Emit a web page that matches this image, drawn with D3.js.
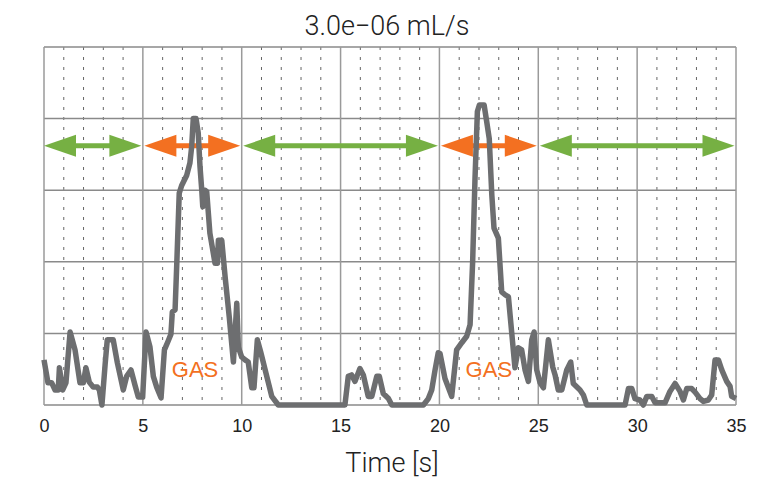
<!DOCTYPE html>
<html>
<head>
<meta charset="utf-8">
<script src="https://cdn.jsdelivr.net/npm/d3@7"></script>
<style>
  body { margin: 0; background: #fff; }
  svg { display: block; }
</style>
</head>
<body>
<script>
// time [s] and flow (in grid divisions)
const times = [0, 0.2, 0.39, 0.56, 0.72, 0.78, 0.94, 1.11, 1.32, 1.57, 1.82, 1.99, 2.12, 2.29, 2.49, 2.7, 2.8, 2.93,
  3.09, 3.2, 3.5, 3.71, 4.01, 4.18, 4.4, 4.6, 4.77, 4.99, 5.16, 5.36, 5.53, 5.7, 5.92, 6.09, 6.26, 6.42, 6.49, 6.63,
  6.71, 6.84, 6.97, 7.22, 7.38, 7.47, 7.55, 7.69, 7.8, 7.89, 7.98, 8.03, 8.14, 8.23, 8.39, 8.65, 8.77, 8.82, 8.99,
  9.16, 9.37, 9.58, 9.75, 9.83, 10.0, 10.17, 10.33, 10.51, 10.62, 10.79, 10.96, 11.35, 11.52, 11.85, 15.22, 15.39,
  15.56, 15.73, 15.98, 16.15, 16.4, 16.58, 16.83, 16.96, 17.16, 17.42, 17.59, 19.19, 19.44, 19.61, 19.78, 19.94,
  20.03, 20.28, 20.62, 20.87, 21.13, 21.38, 21.55, 21.68, 21.8, 21.92, 22.02, 22.26, 22.39, 22.52, 22.65, 22.76,
  22.98, 23.15, 23.32, 23.49, 23.66, 23.82, 23.99, 24.16, 24.33, 24.5, 24.67, 24.79, 24.92, 25.09, 25.26, 25.51,
  25.73, 25.85, 26.01, 26.19, 26.44, 26.64, 26.77, 27.11, 27.28, 27.45, 29.39, 29.56, 29.73, 29.89, 30.14, 30.31,
  30.49, 30.74, 30.91, 31.41, 31.66, 31.92, 32.17, 32.34, 32.51, 32.76, 32.93, 33.18, 33.35, 33.6, 33.77, 33.94,
  34.11, 34.28, 34.53, 34.7, 34.78, 35.0];
const flow = [0.63, 0.31, 0.31, 0.21, 0.21, 0.52, 0.21, 0.31, 1.02, 0.77, 0.31, 0.31, 0.52, 0.32, 0.25, 0.25, 0.21, 0,
  0.56, 0.91, 0.91, 0.59, 0.21, 0.4, 0.49, 0.28, 0.11, 0.11, 1.02, 0.81, 0.4, 0.25, 0.1, 0.77, 0.88, 0.99, 1.3, 1.33,
  1.93, 2.96, 3.07, 3.21, 3.38, 3.61, 4.0, 4.0, 3.8, 3.33, 3.0, 2.77, 3.0, 2.98, 2.4, 1.98, 1.98, 2.3, 2.3,
  1.79, 1.23, 0.6, 1.42, 0.81, 0.67, 0.63, 0.6, 0.24, 0.24, 0.91, 0.74, 0.31, 0.12, 0, 0, 0.4,
  0.42, 0.33, 0.51, 0.42, 0.12, 0.12, 0.4, 0.4, 0.16, 0.09, 0, 0, 0.09, 0.21, 0.49, 0.73,
  0.72, 0.37, 0.12, 0.77, 0.87, 0.96, 1.12, 2.0, 3.17, 4.1, 4.19, 4.19, 3.96, 3.72, 2.93, 2.47,
  2.33, 1.58, 1.54, 1.51, 1.0, 0.52, 0.8, 0.77, 0.49, 0.33, 0.91, 1.02, 0.49, 0.31, 0.24, 0.91,
  0.53, 0.42, 0.21, 0.21, 0.49, 0.6, 0.3, 0.21, 0.14, 0, 0, 0.23, 0.23, 0.09, 0.07, 0,
  0.12, 0.12, 0.03, 0.03, 0.19, 0.3, 0.19, 0.07, 0.23, 0.23, 0.18, 0.09, 0.05, 0.07, 0.14, 0.63,
  0.63, 0.49, 0.33, 0.26, 0.12, 0.09];

const xTicks = [0, 5, 10, 15, 20, 25, 30, 35];
const phases = ["gas-free", "gas", "gas-free", "gas", "gas-free"];
const phaseStart = [0, 5, 10, 20, 25];
const phaseEnd = [5, 10, 20, 25, 35];
const arrowLevel = 3.62;
const gasLabelX = [7.64, 22.5];
const gasLabelY = [0.4, 0.4];

const width = 776;
const height = 492;
const margin = { top: 47, right: 40, bottom: 87, left: 44 };

const svg = d3.select("body").append("svg").attr("width", width).attr("height", height);

const xScale = d3.scaleLinear().domain([0, 35]).range([margin.left, width - margin.right]);
const yScale = d3.scaleLinear().domain([0, 5]).range([height - margin.bottom, margin.top]);

const colors = { "gas-free": "#76b043", "gas": "#f37021" };

// minor dotted grid every second
svg.append("g")
  .selectAll("line")
  .data(d3.range(1, 35).filter(d => d % 5 !== 0))
  .join("line")
  .attr("x1", d => xScale(d)).attr("x2", d => xScale(d))
  .attr("y1", yScale(5)).attr("y2", yScale(0))
  .attr("stroke", "#666")
  .attr("stroke-width", 1)
  .attr("stroke-dasharray", "3,7");

// horizontal grid
svg.append("g")
  .selectAll("line")
  .data(d3.range(0, 6))
  .join("line")
  .attr("x1", xScale(0)).attr("x2", xScale(35))
  .attr("y1", d => yScale(d)).attr("y2", d => yScale(d))
  .attr("stroke", "#8a8a8a")
  .attr("stroke-width", 1.5);

// major vertical grid
svg.append("g")
  .selectAll("line")
  .data(xTicks)
  .join("line")
  .attr("x1", d => xScale(d)).attr("x2", d => xScale(d))
  .attr("y1", yScale(5)).attr("y2", yScale(0))
  .attr("stroke", "#9a9a9a")
  .attr("stroke-width", 1.5);

// x axis labels
const axisx = d3.axisBottom(xScale).tickValues(xTicks).tickSize(0).tickPadding(14);
svg.append("g")
  .attr("transform", "translate(0," + yScale(0) + ")")
  .call(axisx)
  .call(g => g.select(".domain").remove())
  .selectAll("text")
  .attr("font-family", "Liberation Sans, Arial, sans-serif")
  .attr("font-size", 18)
  .attr("fill", "#222");

// arrows
const headLen = 32, headHalf = 11, inset = 1.5;
const arrows = svg.append("g");
phases.forEach((p, i) => {
  const x0 = xScale(phaseStart[i]) + (i === 0 ? 0 : inset);
  const x1 = xScale(phaseEnd[i]) - inset;
  const y = yScale(arrowLevel);
  const c = colors[p];
  arrows.append("line")
    .attr("x1", x0 + headLen - 2).attr("x2", x1 - headLen + 2)
    .attr("y1", y).attr("y2", y)
    .attr("stroke", c).attr("stroke-width", 5);
  arrows.append("path")
    .attr("d", `M${x0},${y}L${x0 + headLen},${y - headHalf}L${x0 + headLen},${y + headHalf}Z`)
    .attr("fill", c);
  arrows.append("path")
    .attr("d", `M${x1},${y}L${x1 - headLen},${y - headHalf}L${x1 - headLen},${y + headHalf}Z`)
    .attr("fill", c);
});

// flow line
const line = d3.line()
  .x((d, i) => xScale(times[i]))
  .y(d => yScale(d));

svg.append("path")
  .datum(flow)
  .attr("fill", "none")
  .attr("stroke", "#6d6e70")
  .attr("stroke-width", 5.5)
  .attr("stroke-linejoin", "round")
  .attr("d", line);

// GAS labels
svg.append("g")
  .selectAll("text")
  .data(gasLabelX)
  .join("text")
  .attr("x", d => xScale(d))
  .attr("y", (d, i) => yScale(gasLabelY[i]) + 1)
  .attr("text-anchor", "middle")
  .attr("font-family", "Liberation Sans, Arial, sans-serif")
  .attr("font-size", 22)
  .attr("fill", "#f37021")
  .text("GAS");

// title
svg.append("text")
  .attr("x", 387).attr("y", 35)
  .attr("text-anchor", "middle")
  .attr("font-family", "Roboto, sans-serif")
  .attr("font-weight", 300)
  .attr("font-size", 27)
  .attr("fill", "#222")
  .text("3.0e\u221206 mL/s");

// axis title
svg.append("text")
  .attr("x", 392).attr("y", 472)
  .attr("text-anchor", "middle")
  .attr("font-family", "Roboto, sans-serif")
  .attr("font-weight", 300)
  .attr("font-size", 27)
  .attr("fill", "#222")
  .text("Time [s]");
</script>
</body>
</html>
